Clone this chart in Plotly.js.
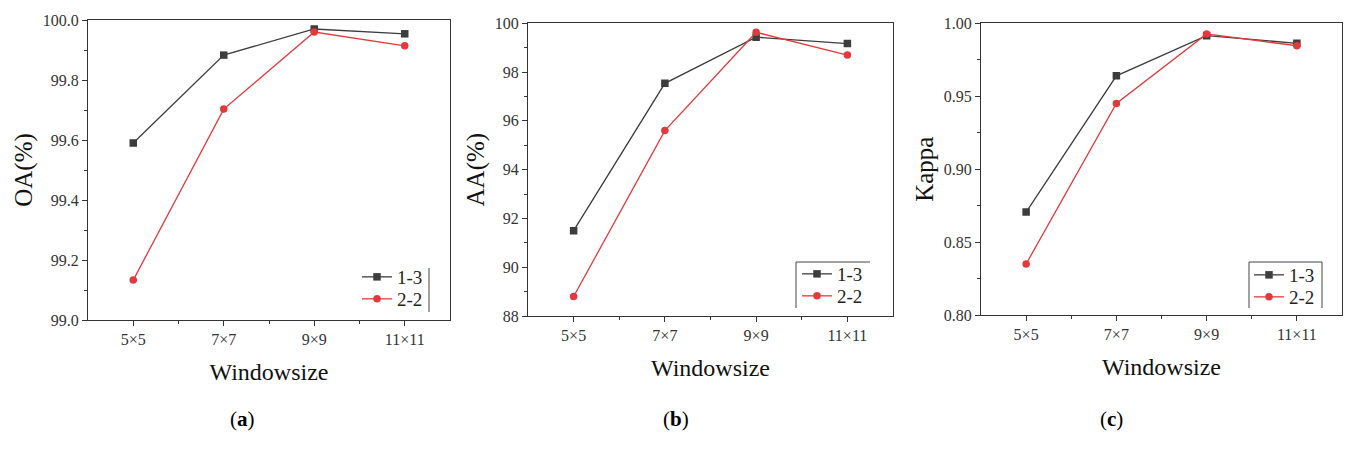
<!DOCTYPE html>
<html><head><meta charset="utf-8">
<script src="https://cdn.plot.ly/plotly-3.0.1.min.js"></script>
<style>html,body{margin:0;padding:0;background:#fff}#c{width:1346px;height:450px}</style>
</head><body><div id="c"></div>
<script>
const categories = ['5×5', '7×7', '9×9', '11×11'];
const seriesNames = ['1-3', '2-2'];
const oa13 = [99.59, 99.883, 99.97, 99.954];
const oa22 = [99.133, 99.703, 99.96, 99.914];
const aa13 = [91.5, 97.54, 99.43, 99.17];
const aa22 = [88.8, 95.6, 99.63, 98.70];
const kappa13 = [0.8706, 0.964, 0.9915, 0.9863];
const kappa22 = [0.835, 0.945, 0.9927, 0.9846];
const yTitles = ['OA(%)', 'AA(%)', 'Kappa'];
const captions = ['a', 'b', 'c'];

const W = 1346, H = 450;
const xi = categories.map((_, i) => i);
const black = '#3d3d3d', red = '#e23a3c';
const serif = 'Liberation Serif';

function mk(y, name, axis, legend, color, symbol) {
  return {x: xi, y: y, name: name, xaxis: 'x' + axis, yaxis: 'y' + axis, legend: legend,
    mode: 'lines+markers', line: {color: color, width: 1.3},
    marker: {color: color, symbol: symbol, size: 7.5}};
}
const data = [
  mk(oa13, seriesNames[0], '', 'legend', black, 'square'),
  mk(oa22, seriesNames[1], '', 'legend2', red, 'circle'),
  mk(aa13, seriesNames[0], '2', 'legend3', black, 'square'),
  mk(aa22, seriesNames[1], '2', 'legend4', red, 'circle'),
  mk(kappa13, seriesNames[0], '3', 'legend5', black, 'square'),
  mk(kappa22, seriesNames[1], '3', 'legend6', red, 'circle')
];

function xax(l, r, anchor) {
  return {domain: [l / W, r / W], anchor: anchor, range: [-0.5, 3.5], tickmode: 'array', tickvals: xi, ticktext: categories,
    ticks: 'outside', ticklen: 5, tickcolor: '#333', showline: true, linecolor: '#333', linewidth: 1, mirror: true,
    showgrid: false, zeroline: false, tickfont: {family: serif, size: 16, color: '#333'},
    minor: {tickmode: 'array', tickvals: [0.5, 1.5, 2.5], ticks: 'outside', ticklen: 3, tickcolor: '#333'},
    title: {text: 'Windowsize', font: {family: serif, size: 24, color: '#111'}, standoff: 15}};
}
function yax(t, b, anchor, range, dtick, mdtick, fmt, title) {
  return {domain: [1 - b / H, 1 - t / H], anchor: anchor, range: range, tick0: range[0], dtick: dtick, tickformat: fmt,
    ticks: 'outside', ticklen: 5, tickcolor: '#333', showline: true, linecolor: '#333', linewidth: 1, mirror: true,
    showgrid: false, zeroline: false, tickfont: {family: serif, size: 16, color: '#333'},
    minor: {dtick: mdtick, tick0: range[0], ticks: 'outside', ticklen: 3, tickcolor: '#333'},
    title: {text: title, font: {family: serif, size: 25, color: '#111'}, standoff: 3}};
}
function leg(x, y) {
  return {x: x / W, y: 1 - y / H, xanchor: 'left', yanchor: 'middle', bgcolor: 'rgba(0,0,0,0)',
    borderwidth: 0, font: {family: serif, size: 19, color: '#222'}, itemwidth: 30, tracegroupgap: 0};
}
function ln(x0, y0, x1, y1) {
  return {type: 'line', xref: 'paper', yref: 'paper', x0: x0 / W, x1: x1 / W, y0: 1 - y0 / H, y1: 1 - y1 / H,
    line: {color: '#444', width: 1}};
}
const capX = [228, 676, 1125];
const layout = {
  width: W, height: H, margin: {l: 0, r: 0, t: 0, b: 0}, paper_bgcolor: '#fff', plot_bgcolor: '#fff',
  font: {family: serif, color: '#333'},
  xaxis: xax(88, 450, 'y'), xaxis2: xax(528, 893, 'y2'), xaxis3: xax(981, 1342, 'y3'),
  yaxis: yax(20, 320, 'x', [99.0, 100.0], 0.2, 0.1, '.1f', yTitles[0]),
  yaxis2: yax(23.3, 316, 'x2', [88, 100], 2, 1, 'd', yTitles[1]),
  yaxis3: yax(23.3, 315, 'x3', [0.80, 1.00], 0.05, 0.025, '.2f', yTitles[2]),
  legend: leg(357, 277), legend2: leg(357, 299),
  legend3: leg(797, 274), legend4: leg(797, 296),
  legend5: leg(1249, 275), legend6: leg(1249, 297),
  shapes: [ln(429, 268, 429, 312), ln(796, 262, 870, 262), ln(796, 262, 796, 308),
           ln(1249, 262, 1322, 262), ln(1249, 262, 1249, 308), ln(1322, 262, 1322, 308)],
  annotations: captions.map((c, i) => ({text: '(<b>' + c + '</b>)', xref: 'paper', yref: 'paper',
    x: capX[i] / W, y: 1 - 433 / H, showarrow: false, font: {family: serif, size: 21, color: '#000'}})),
  showlegend: true
};
Plotly.newPlot('c', data, layout, {displayModeBar: false, staticPlot: true});
</script></body></html>
